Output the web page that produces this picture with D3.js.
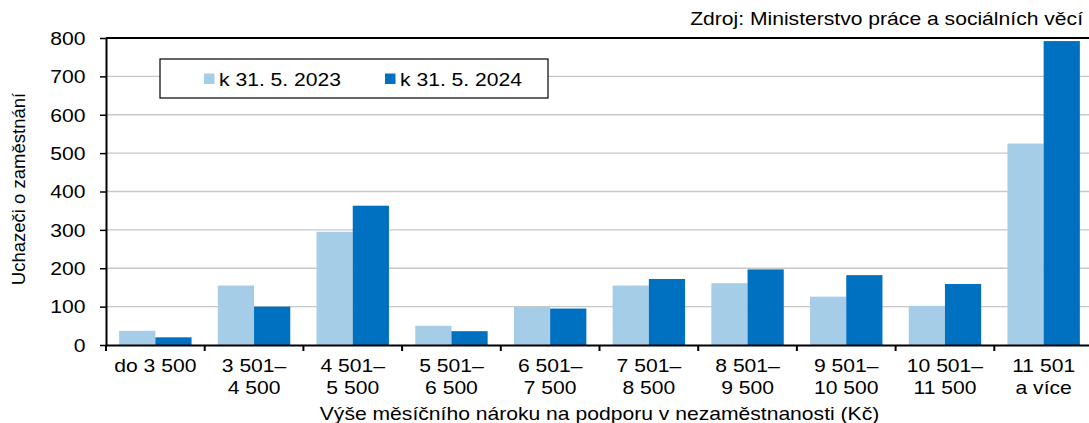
<!DOCTYPE html>
<html><head><meta charset="utf-8">
<script src="https://cdn.jsdelivr.net/npm/d3@7"></script>
<style>
body{margin:0;background:#fff}
svg{display:block}
text{font-family:"Liberation Sans",Arial,sans-serif;fill:#000}
</style>
</head><body><svg id="chart" width="1089" height="423"></svg>
<script>
const categories = ["do 3 500","3 501–|4 500","4 501–|5 500","5 501–|6 500","6 501–|7 500","7 501–|8 500","8 501–|9 500","9 501–|10 500","10 501–|11 500","11 501|a více"];
const seriesNames = ["k 31. 5. 2023","k 31. 5. 2024"];
const values2023 = [37,155,295,50,99,155,161,126,102,525];
const values2024 = [20,100,363,36,95,172,197,182,159,792];
const yTicks = [0,100,200,300,400,500,600,700,800];
const yTitle = "Uchazeči o zaměstnání";
const xTitle = "Výše měsíčního nároku na podporu v nezaměstnanosti (Kč)";
const sourceText = "Zdroj: Ministerstvo práce a sociálních věcí";
const colors = ["#a6cde8","#0070c0"];

const series = [values2023, values2024];
const FS = 17.6, SX = 1.2;
const L = 106, R = 1093, T = 38, B = 345;

const svg = d3.select("#chart");
svg.append("rect").attr("width",1089).attr("height",423).attr("fill","#fff");

const x = d3.scaleBand().domain(categories).range([L,R]).padding(0);
const xs = d3.scaleBand().domain([0,1]).range([0,x.bandwidth()]).paddingInner(0).paddingOuter(0.363);
const y = d3.scaleLinear().domain([0,800]).range([B,T]);

// gridlines
svg.append("g").selectAll("line").data(yTicks.filter(d=>d>0 && d<800)).join("line")
  .attr("x1",L).attr("x2",R).attr("y1",d=>y(d)).attr("y2",d=>y(d))
  .attr("stroke","#c8c8c8").attr("stroke-width",1.3);

// bars
series.forEach((vals,si)=>{
  svg.append("g").selectAll("rect").data(vals).join("rect")
    .attr("x",(d,i)=>x(categories[i])+xs(si))
    .attr("width",xs.bandwidth())
    .attr("y",d=>y(d))
    .attr("height",d=>y(0)-y(d))
    .attr("fill",colors[si]);
});

// top border
svg.append("line").attr("x1",L).attr("x2",R).attr("y1",y(800)).attr("y2",y(800))
  .attr("stroke","#000").attr("stroke-width",2);

// y axis
const yAxis = svg.append("g").attr("transform",`translate(${L},0)`)
  .call(d3.axisLeft(y).tickValues(yTicks).tickSize(6).tickSizeOuter(0).tickFormat(d3.format("d")));
yAxis.select(".domain").attr("stroke","#000").attr("stroke-width",2);
yAxis.selectAll(".tick line").attr("stroke","#000").attr("stroke-width",1.5);
yAxis.selectAll(".tick text").attr("x",0).attr("dy","0.36em")
  .attr("transform",`translate(-20.5,0) scale(${SX},1)`)
  .attr("font-size",FS).attr("font-family",null).attr("fill","#000");

// x axis
const xAxis = svg.append("g").attr("transform",`translate(0,${B})`)
  .call(d3.axisBottom(x).tickSize(0).tickSizeOuter(0));
xAxis.select(".domain").attr("stroke","#000").attr("stroke-width",2);
xAxis.selectAll(".tick text").each(function(d){
  const t = d3.select(this);
  t.text(null).attr("y",null).attr("dy",null)
   .attr("transform",`scale(${SX},1)`)
   .attr("font-size",FS).attr("font-family",null).attr("fill","#000");
  d.split("|").forEach((line,i)=>{
    t.append("tspan").attr("x",0).attr("y",27.5+i*22).text(line);
  });
});
// boundary ticks
svg.append("g").selectAll("line").data(d3.range(categories.length+1)).join("line")
  .attr("x1",i=>x(categories[0])+i*x.step()).attr("x2",i=>x(categories[0])+i*x.step())
  .attr("y1",B).attr("y2",B+6).attr("stroke","#000").attr("stroke-width",2);

// legend
const lg = svg.append("g");
lg.append("rect").attr("x",160).attr("y",59).attr("width",388).attr("height",39)
  .attr("fill","#fff").attr("stroke","#000").attr("stroke-width",1.2);
const legX = [204, 385];
seriesNames.forEach((n,i)=>{
  lg.append("rect").attr("x",legX[i]).attr("y",73.5).attr("width",10.5).attr("height",10.5).attr("fill",colors[i]);
  lg.append("text").attr("transform",`translate(${legX[i]+15},85.5) scale(${SX},1)`)
    .attr("font-size",FS).text(n);
});

// titles
svg.append("text").attr("transform","translate(25,189) rotate(-90)")
  .attr("text-anchor","middle").attr("font-size",18.5).text(yTitle);
svg.append("text").attr("transform",`translate(${(L+R)/2},420) scale(${SX},1)`)
  .attr("text-anchor","middle").attr("font-size",FS).text(xTitle);
svg.append("text").attr("transform",`translate(1083,25) scale(${SX},1)`)
  .attr("text-anchor","end").attr("font-size",FS).text(sourceText);
</script>
</body></html>
